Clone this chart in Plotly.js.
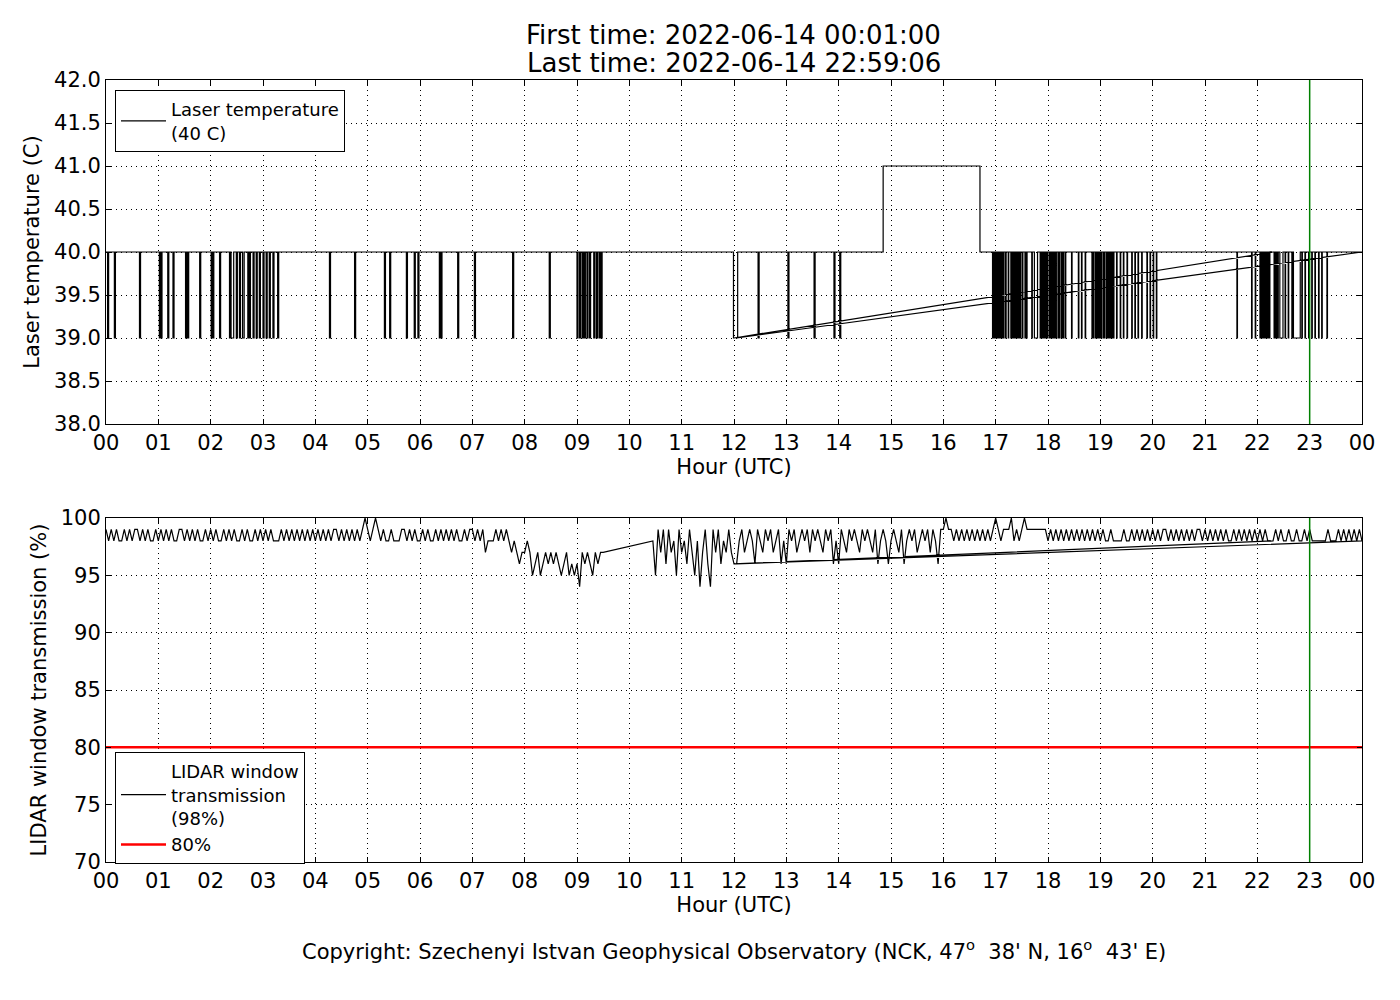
<!DOCTYPE html>
<html>
<head>
<meta charset="utf-8">
<script src="https://cdn.plot.ly/plotly-3.0.1.min.js"></script>
<style>
  body { margin: 0; background: #fff; }
  #plot { width: 1400px; height: 1000px; }
</style>
</head>
<body>
<div id="plot"></div>
<script>
// hour axis ticks
const hourTicks = [0,1,2,3,4,5,6,7,8,9,10,11,12,13,14,15,16,17,18,19,20,21,22,23,24];
const hourLabels = ['00','01','02','03','04','05','06','07','08','09','10','11','12',
                    '13','14','15','16','17','18','19','20','21','22','23','00'];
const tempTicks = [38.0,38.5,39.0,39.5,40.0,40.5,41.0,41.5,42.0];
const transTicks = [70,75,80,85,90,95,100];

const lastHour = 23;       // green marker line
const limitHours = [0, 24];
const limitValues = [80, 80];

// laser temperature: [start, end] of excursions from 40 C (third value = level if not 39)
const tempSeg1 = [0, 12.0];
const tempDips1 = [
  [0.03,0.05],[0.16,0.18],[0.64,0.66],[1.02,1.04],[1.05,1.07],[1.18,1.2],[1.28,1.3],
  [1.52,1.54],[1.56,1.58],[1.79,1.81],[2.01,2.03],[2.04,2.06],[2.17,2.19],[2.36,2.38],
  [2.39,2.44],[2.49,2.51],[2.55,2.57],[2.61,2.64],[2.71,2.73],[2.74,2.76],[2.81,2.83],
  [2.87,2.89],[2.93,2.95],[3.0,3.02],[3.06,3.08],[3.12,3.14],[3.19,3.21],[3.28,3.3],
  [4.27,4.29],[4.75,4.77],[5.32,5.34],[5.42,5.44],[5.74,5.76],[5.89,5.91],[5.96,5.98],
  [6.37,6.39],[6.4,6.42],[6.72,6.74],[7.04,7.06],[7.77,7.79],[8.47,8.49],
  [9.0,9.02],[9.05,9.07],[9.1,9.12],[9.14,9.16],[9.19,9.21],[9.24,9.26],[9.32,9.34],
  [9.37,9.39],[9.42,9.44],[9.46,9.48],[11.99,12.0]
];
const tempSeg2 = [22.3, 24.0];
const tempDips2 = [
  [22.32,22.33],[22.35,22.36],[22.38,22.4],[22.43,22.49],[22.53,22.54],[22.59,22.6],
  [22.66,22.67],[22.69,22.82],[22.85,22.86],[22.91,22.92],[22.98,22.99],[23.04,23.05],
  [23.1,23.11],[23.17,23.18],[23.23,23.24],[23.33,23.34]
];
const tempSeg3 = [12.05, 22.28];
const tempDips3 = [
  [12.05,12.07],[12.46,12.48],[13.03,13.05],[13.53,13.55],[13.91,13.93],[14.02,14.04],
  [14.85,16.7,41],
  [16.94,16.96],[16.98,17.0],[17.02,17.03],[17.05,17.07],[17.09,17.1],[17.12,17.13],
  [17.15,17.16],[17.19,17.2],[17.24,17.25],[17.29,17.3],[17.32,17.34],[17.35,17.36],
  [17.38,17.4],[17.41,17.42],[17.44,17.45],[17.47,17.48],[17.51,17.52],[17.56,17.57],
  [17.59,17.6],[17.69,17.7],[17.74,17.8],[17.85,17.86],[17.88,17.89],[17.91,17.93],
  [17.95,17.96],[17.98,17.99],[18.02,18.03],[18.05,18.06],[18.08,18.1],[18.12,18.13],
  [18.15,18.16],[18.19,18.2],[18.22,18.23],[18.26,18.27],[18.29,18.3],[18.33,18.34],
  [18.45,18.46],[18.58,18.59],[18.64,18.65],[18.71,18.72],[18.84,18.85],[18.87,18.88],
  [18.91,18.92],[18.94,18.96],[18.98,18.99],[19.01,19.02],[19.05,19.06],[19.08,19.09],
  [19.12,19.13],[19.15,19.17],[19.19,19.2],[19.22,19.23],[19.25,19.26],[19.31,19.32],
  [19.38,19.39],[19.44,19.45],[19.51,19.52],[19.6,19.61],[19.66,19.67],[19.72,19.73],
  [19.79,19.8],[19.89,19.9],[19.95,19.96],[20.01,20.02],[20.07,20.08],
  [21.61,21.62],[21.89,21.9],[21.96,21.97],[22.05,22.06],[22.08,22.09],[22.11,22.12],
  [22.14,22.15],[22.17,22.18],[22.2,22.21],[22.23,22.24]
];

// LIDAR window transmission, 3-minute samples (%)
const transStep = 0.05;
const transStartA = 0.0;
const transA = [
  99,98,99,98,99,98,98,99,98,99,98,99,99,98,99,98,99,98,98,99,
  98,99,98,99,98,99,98,98,99,99,98,99,98,99,98,99,98,98,99,98,
  99,98,99,98,98,99,98,99,98,99,98,98,99,98,99,98,98,99,98,99,
  98,99,98,99,98,98,98,99,98,99,98,99,98,99,98,99,98,99,98,99,
  98,99,98,99,98,99,98,99,99,98,99,98,99,98,99,98,99,98,99,100,
  99,98,99,100,99,98,99,98,98,99,98,98,98,99,99,98,99,98,99,98,
  98,99,98,99,98,98,99,98,99,98,99,98,99,98,99,98,98,99,98,99,
  99,98,99,98,99,97,98,98,98,99,98,99,98,99,98,97,98,97,96,97,
  97,98,97,95,96,97,95,96,97,96,97,96,97,96,95,96,97,95,96,95,
  96,94,97,96,97,96,95,97,96,97,97
];
const transStartB = 10.45;
const transB = [
  98,95,99,97,99,96,99,97,98,95,99,
  97,98,96,99,97,95,98,94,97,99,96,94,99,97,99,96,98,97,99,97,96
];
const transStartC = 22.3;
const transC = [
  98,99,98,99,98,98,99,98,98,99,98,98,99,98,99,98,98,98,98,98,
  98,99,98,98,98,99,98,99,98,99,98,99,98,99,98
];
const transStartD = 12.05;
const transD = [
  96,98,99,97,98,99,98,96,99,98,97,99,98,99,97,98,99,96,98,
  96,99,98,99,97,98,99,98,99,97,99,98,99,98,97,99,98,99,96,98,
  96,99,98,97,99,98,99,98,97,99,98,99,98,97,99,96,98,99,98,96,
  98,99,98,97,99,96,98,99,98,99,97,98,99,98,99,97,99,98,96,99,
  99,100,99,99,98,99,98,99,98,99,98,99,98,99,98,99,98,99,98,99,
  100,99,98,99,99,99,100,98,99,98,99,100,99,99,99,99,99,99,99,99,
  98,99,98,99,98,99,98,99,98,99,98,99,98,99,98,99,98,99,98,99,
  98,99,98,98,99,98,98,98,98,99,98,98,99,98,99,98,99,98,99,98,
  99,98,99,98,99,99,98,99,98,99,98,99,98,99,98,99,98,99,99,98,
  99,98,99,98,99,98,99,98,99,98,98,99,98,99,98,99,98,99,98,99,
  98,99,98,99,98,98
];

// square-step line through the excursions of one segment
function stepLine(seg, base, low, dips) {
  const xs = [], ys = [];
  let t = seg[0];
  if (!dips.length || dips[0][0] > t) { xs.push(t); ys.push(base); }
  dips.forEach(d => {
    const lvl = d.length > 2 ? d[2] : low;
    if (d[0] > t) { xs.push(d[0]); ys.push(base); }
    xs.push(d[0], d[1]); ys.push(lvl, lvl);
    if (d[1] < seg[1]) { xs.push(d[1]); ys.push(base); }
    t = d[1];
  });
  if (t < seg[1]) { xs.push(seg[1]); ys.push(base); }
  return [xs, ys];
}

function sampled(start, values) {
  return [values.map((v, i) => start + i * transStep), values];
}

const tempParts = [
  stepLine(tempSeg1, 40, 39, tempDips1),
  stepLine(tempSeg2, 40, 39, tempDips2),
  stepLine(tempSeg3, 40, 39, tempDips3)
];
const tempX = [].concat(...tempParts.map(p => p[0]));
const tempY = [].concat(...tempParts.map(p => p[1]));

const transParts = [
  sampled(transStartA, transA),
  sampled(transStartB, transB),
  sampled(transStartC, transC),
  sampled(transStartD, transD)
];
const transX = [].concat(...transParts.map(p => p[0]));
const transY = [].concat(...transParts.map(p => p[1]));

const font = 'DejaVu Sans, sans-serif';

const traces = [
  {
    x: tempX, y: tempY, type: 'scatter', mode: 'lines',
    line: {color: '#000', width: 1.2},
    name: 'Laser temperature<br>(40 C)',
    xaxis: 'x', yaxis: 'y', legend: 'legend'
  },
  {
    x: transX, y: transY, type: 'scatter', mode: 'lines',
    line: {color: '#000', width: 1.2},
    name: 'LIDAR window<br>transmission<br>(98%)',
    xaxis: 'x2', yaxis: 'y2', legend: 'legend2'
  },
  {
    x: limitHours, y: limitValues, type: 'scatter', mode: 'lines',
    line: {color: '#ff0000', width: 2.5},
    name: '80%',
    xaxis: 'x2', yaxis: 'y2', legend: 'legend2'
  }
];

function hourAxis(anchor) {
  return {
    domain: [106 / 1400, 1362 / 1400], anchor: anchor,
    range: [0, 24], tickvals: hourTicks, ticktext: hourLabels,
    ticks: 'inside', ticklen: 5, tickcolor: '#000',
    showline: true, linecolor: '#000', linewidth: 1, mirror: 'allticks',
    showgrid: true, gridcolor: '#000', gridwidth: 1, griddash: '1px,4px',
    zeroline: false, tickfont: {size: 21, color: '#000'},
    title: {text: 'Hour (UTC)', font: {size: 21, color: '#000'}, standoff: 2}
  };
}

function valueAxis(anchor, dom, range, ticks, fmt, label) {
  return {
    domain: dom, anchor: anchor, range: range, tickvals: ticks, tickformat: fmt,
    ticks: 'inside', ticklen: 5, tickcolor: '#000',
    showline: true, linecolor: '#000', linewidth: 1, mirror: 'allticks',
    showgrid: true, gridcolor: '#000', gridwidth: 1, griddash: '1px,4px',
    zeroline: false, tickfont: {size: 21, color: '#000'},
    title: {text: label, font: {size: 21, color: '#000'}, standoff: 8}
  };
}

const legendStyle = {
  xanchor: 'left', yanchor: 'top',
  bgcolor: '#fff', bordercolor: '#000', borderwidth: 1,
  font: {family: font, size: 18, color: '#000'},
  itemwidth: 45,
  tracegroupgap: 4
};

const layout = {
  width: 1400, height: 1000,
  margin: {l: 0, r: 0, t: 0, b: 0},
  paper_bgcolor: '#fff', plot_bgcolor: '#fff',
  font: {family: font, color: '#000'},
  showlegend: true,
  xaxis: hourAxis('y'),
  yaxis: valueAxis('x', [0.576, 0.92], [38, 42], tempTicks, '.1f', 'Laser temperature (C)'),
  xaxis2: hourAxis('y2'),
  yaxis2: valueAxis('x2', [0.138, 0.482], [70, 100], transTicks, 'd', 'LIDAR window transmission (%)'),
  legend: Object.assign({x: 115 / 1400, y: 0.91}, legendStyle),
  legend2: Object.assign({x: 115 / 1400, y: 0.248}, legendStyle),
  shapes: [
    {type: 'line', xref: 'x', yref: 'y domain', x0: lastHour, x1: lastHour, y0: 0, y1: 1,
     line: {color: '#008000', width: 1.5}},
    {type: 'line', xref: 'x2', yref: 'y2 domain', x0: lastHour, x1: lastHour, y0: 0, y1: 1,
     line: {color: '#008000', width: 1.5}}
  ],
  annotations: [
    {
      text: 'First time: 2022-06-14 00:01:00',
      xref: 'paper', yref: 'paper', x: 734 / 1400, y: 0.965,
      xanchor: 'center', yanchor: 'middle', showarrow: false,
      font: {size: 26, color: '#000'}
    },
    {
      text: 'Last time: 2022-06-14 22:59:06',
      xref: 'paper', yref: 'paper', x: 734 / 1400, y: 0.937,
      xanchor: 'center', yanchor: 'middle', showarrow: false,
      font: {size: 26, color: '#000'}
    },
    {
      text: "Copyright: Szechenyi Istvan Geophysical Observatory (NCK, 47<sup>o</sup>  38' N, 16<sup>o</sup>  43' E)",
      xref: 'paper', yref: 'paper', x: 734 / 1400, y: 0.05,
      xanchor: 'center', yanchor: 'middle', showarrow: false,
      font: {size: 21, color: '#000'}
    }
  ]
};

Plotly.newPlot('plot', traces, layout, {staticPlot: true});
</script>
</body>
</html>
